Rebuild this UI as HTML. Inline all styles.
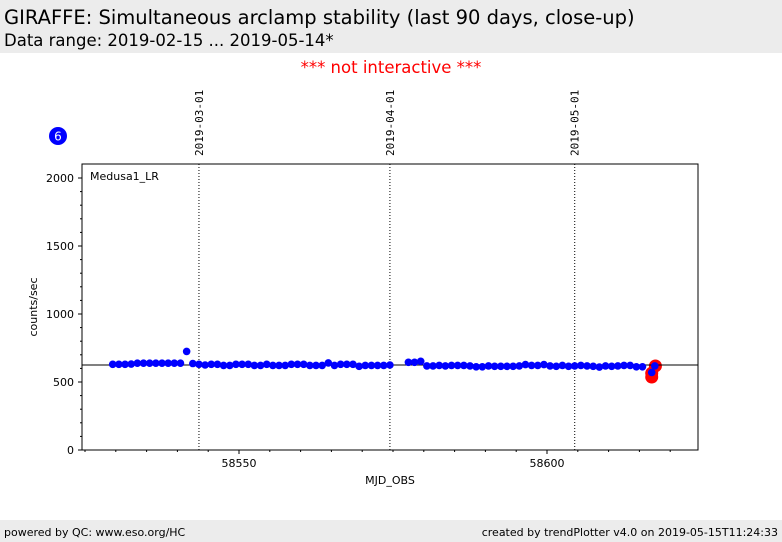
<!DOCTYPE html>
<html><head><meta charset="utf-8"><style>
body{margin:0;width:782px;height:542px;background:#fff;font-family:"DejaVu Sans","Liberation Sans",sans-serif;overflow:hidden;position:relative}
.hdr{position:absolute;left:0;top:0;width:782px;height:53px;background:#ececec}
.t1{position:absolute;left:4px;top:6px;font-size:19.5px}
.t2{position:absolute;left:4px;top:31px;font-size:16.5px}
.ni{position:absolute;left:0;width:782px;top:58px;text-align:center;color:#f00;font-size:16.5px}
.ftr{position:absolute;left:0;top:520px;width:782px;height:22px;background:#ececec;font-size:11px}
</style></head><body>
<div class="hdr">
<div class="t1">GIRAFFE: Simultaneous arclamp stability (last 90 days, close-up)</div>
<div class="t2">Data range: 2019-02-15 ... 2019-05-14*</div></div>
<div class="ni">*** not interactive ***</div>
<svg id="c" width="782" height="542" style="position:absolute;left:0;top:0"></svg>
<div class="ftr"><span style="position:absolute;left:4px;top:6px">powered by QC: www.eso.org/HC</span><span style="position:absolute;right:4px;top:6px">created by trendPlotter v4.0 on 2019-05-15T11:24:33</span></div>
<script>
const days1=[58529.5,58530.5,58531.5,58532.5,58533.5,58534.5,58535.5,58536.5,58537.5,58538.5,58539.5,58540.5,58541.5,58542.5,58543.5,58544.5,58545.5,58546.5,58547.5,58548.5,58549.5,58550.5,58551.5,58552.5,58553.5,58554.5,58555.5,58556.5,58557.5,58558.5,58559.5,58560.5,58561.5,58562.5,58563.5,58564.5,58565.5,58566.5,58567.5,58568.5,58569.5,58570.5,58571.5,58572.5,58573.5,58574.5];
const vals1=[630,630,630,632,638,638,638,638,638,638,638,638,725,636,630,625,630,630,622,622,630,630,630,622,622,630,622,622,622,630,630,630,622,622,622,640,622,630,630,630,615,622,622,622,622,625];
const days2=[58577.5,58578.5,58579.5,58580.5,58581.5,58582.5,58583.5,58584.5,58585.5,58586.5,58587.5,58588.5,58589.5,58590.5,58591.5,58592.5,58593.5,58594.5,58595.5,58596.5,58597.5,58598.5,58599.5,58600.5,58601.5,58602.5,58603.5,58604.5,58605.5,58606.5,58607.5,58608.5,58609.5,58610.5,58611.5,58612.5,58613.5,58614.5,58615.5,58617,58617.5];
const vals2=[645,645,652,618,618,622,618,622,622,622,618,612,612,618,615,615,615,615,618,628,622,622,628,618,615,622,615,618,622,618,615,610,618,615,618,622,622,612,612,570,618];
const redDays=[58617,58617,58617.6];
const redVals=[537,565,618];
const refLine=625;
const yTicks=[0,500,1000,1500,2000];
const xTicks=[58550,58600];
const dateLines=[58543.5,58574.5,58604.5];
const dateLabels=["2019-03-01","2019-04-01","2019-05-01"];
const L=82,R=698,T=164,B=450;
const x=d=>239+(d-58550)*6.16;
const y=v=>450-v*0.136;
const s=document.getElementById('c');const NS="http://www.w3.org/2000/svg";
function E(t,a,txt){const e=document.createElementNS(NS,t);for(const k in a)e.setAttribute(k,a[k]);if(txt!==undefined)e.textContent=txt;s.appendChild(e);return e;}
let e;
e=E('rect',{x:L,y:T,width:R-L,height:B-T,fill:'none',stroke:'#000','stroke-width':1});


dateLines.forEach((d,i)=>{
 e=E('line',{x1:x(d),x2:x(d),y1:T,y2:B,stroke:'#000','stroke-dasharray':'1,2','stroke-width':1});
 
 
 e=E('text',{x:0,y:0,transform:`translate(${x(d)+4},156) rotate(-90)`,'font-family':'DejaVu Sans Mono,Liberation Mono,monospace','font-size':11},dateLabels[i]);
 
 
});
yTicks.forEach(v=>{
 e=E('line',{x1:L-4,x2:L,y1:y(v),y2:y(v),stroke:'#000'});
 
 
 e=E('text',{x:L-8,y:y(v)+4,'text-anchor':'end','font-size':11},v);
 
 
});
for(let v=100;v<2100;v+=100){if(v%500){e=E('line',{x1:L-2,x2:L,y1:y(v),y2:y(v),stroke:'#000'});
 
 }}
for(let d=58525;d<=58620;d+=5){e=E('line',{x1:x(d),x2:x(d),y1:B,y2:B+(d%50?2:4),stroke:'#000'});
 
 }
xTicks.forEach(d=>{e=E('text',{x:x(d),y:B+17,'text-anchor':'middle','font-size':11},d);
 
 });
e=E('text',{x:390,y:484,'text-anchor':'middle','font-size':11},'MJD_OBS');


e=E('text',{x:0,y:0,transform:'translate(37,307) rotate(-90)','text-anchor':'middle','font-size':11},'counts/sec');


e=E('text',{x:90,y:180,'font-size':11},'Medusa1_LR');


redDays.forEach((d,i)=>{e=E('circle',{cx:x(d),cy:y(redVals[i]),r:6.5,fill:'#f00'});
 
 });
e=E('line',{x1:L,x2:R,y1:y(refLine),y2:y(refLine),stroke:'#000','stroke-width':1});


[[days1,vals1],[days2,vals2]].forEach(([ds,vs])=>ds.forEach((d,i)=>{
 e=E('circle',{cx:x(d),cy:y(vs[i]),r:3.8,fill:'#00f'});
 
 
}));
e=E('circle',{cx:58,cy:136,r:9,fill:'#00f'});


e=E('text',{x:58,y:140.5,'text-anchor':'middle','font-size':12,fill:'#fff'},'6');


</script>
</body></html>
